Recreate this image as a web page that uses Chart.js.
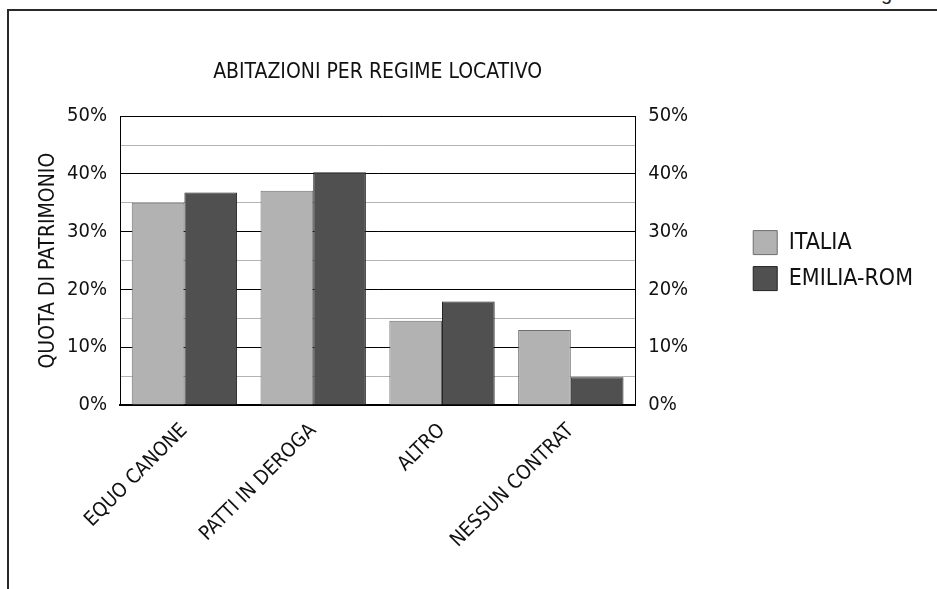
<!DOCTYPE html>
<html>
<head>
<meta charset="utf-8">
<script src="https://cdn.jsdelivr.net/npm/chart.js@4.4.0/dist/chart.umd.min.js"></script>
<style>
  html, body { margin: 0; padding: 0; background: #fff; overflow: hidden; }
  #wrap { position: relative; width: 937px; height: 589px; overflow: hidden; }
  #frame { position: absolute; left: 7px; top: 9px; width: 1000px; height: 1000px;
           border-left: 2px solid #2a2a2a; border-top: 2px solid #2a2a2a; pointer-events: none; }
  #cut { position: absolute; left: 881px; top: -17px; font: 20px "Liberation Sans", Arial, sans-serif;
         line-height: 20px; color: #222; }
  canvas { position: absolute; left: 0; top: 0; }
</style>
</head>
<body>
<div id="wrap">
  <div id="cut">g</div>
  <div id="frame"></div>
  <canvas id="myChart" width="937" height="589"></canvas>
</div>
<script>
const FONT = '"Liberation Sans Narrow", "DejaVu Sans Condensed", "Liberation Sans", sans-serif';

const categories = ['EQUO CANONE', 'PATTI IN DEROGA', 'ALTRO', 'NESSUN CONTRAT'];
const italia = [35.0, 37.1, 14.6, 13.0];
const emilia = [36.8, 40.3, 17.9, 4.8];
const tickLabels = ['0%', '10%', '20%', '30%', '40%', '50%'];

const tickText = (value) => (value % 10 === 0 ? tickLabels[value / 10] : '');
const gridColor = (ctx) => (ctx.tick && ctx.tick.value % 10 === 0 ? '#000000' : '#b4b4b4');

const myChartRef = document.getElementById('myChart').getContext('2d');
const barChart = new Chart(myChartRef, {
  type: 'bar',
  data: {
    labels: categories,
    datasets: [
      { label: 'ITALIA', data: italia, backgroundColor: '#b2b2b2', borderColor: '#6e6e6e', borderWidth: 1 },
      { label: 'EMILIA-ROM', data: emilia, backgroundColor: '#505050', borderColor: '#222222', borderWidth: 1 }
    ]
  },
  options: {
    responsive: false,
    animation: false,
    layout: { padding: { top: 10, right: 14, bottom: 0, left: 0 } },
    datasets: { bar: { categoryPercentage: 0.818, barPercentage: 1.0 } },
    plugins: {
      title: {
        display: true,
        text: 'ABITAZIONI PER REGIME LOCATIVO',
        fullSize: false,
        color: '#111',
        font: { family: FONT, size: 21, weight: 'normal' },
        padding: { top: 50, bottom: 31 }
      },
      legend: {
        position: 'right',
        fullSize: false,
        maxWidth: 260,
        labels: {
          color: '#111',
          font: { family: FONT, size: 23 },
          boxWidth: 24,
          boxHeight: 24,
          padding: 12
        }
      },
      tooltip: { enabled: false }
    },
    scales: {
      x: {
        grid: { display: false, drawTicks: false },
        border: { display: true, color: '#000', width: 2 },
        ticks: {
          color: '#111',
          font: { family: FONT, size: 20 },
          minRotation: 45,
          maxRotation: 45,
          padding: 14
        },
        afterFit: (scale) => { scale.height = 184; }
      },
      y: {
        position: 'left',
        min: 0,
        max: 50,
        grid: { color: gridColor, drawTicks: false, lineWidth: 1 },
        border: { display: true, color: '#000', width: 1 },
        ticks: {
          stepSize: 5,
          autoSkip: false,
          padding: 13,
          color: '#111',
          font: { family: FONT, size: 20 },
          callback: tickText
        },
        title: {
          display: true,
          text: 'QUOTA DI PATRIMONIO',
          color: '#111',
          font: { family: FONT, size: 21 },
          padding: { top: 36, bottom: 0 }
        },
        afterFit: (scale) => { scale.width = 120; }
      },
      y2: {
        position: 'right',
        min: 0,
        max: 50,
        grid: { drawOnChartArea: false, drawTicks: false },
        border: { display: true, color: '#000', width: 1 },
        ticks: {
          stepSize: 5,
          autoSkip: false,
          padding: 13,
          color: '#111',
          font: { family: FONT, size: 20 },
          callback: tickText
        },
        afterFit: (scale) => { scale.width = 106; }
      }
    }
  }
});
</script>
</body>
</html>
